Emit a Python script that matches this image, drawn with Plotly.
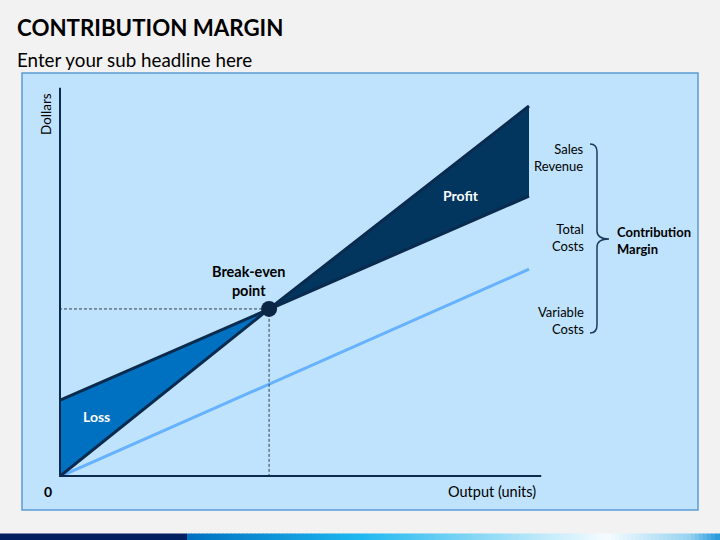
import plotly.graph_objects as go

# ---------------- data ----------------
output_units = [0, 100]
sales_revenue = [0, 100]
total_costs = [20.6, 75.7]
variable_costs = [0, 56]
break_even_output = 44.7
break_even_dollars = 45.3
x_axis_end = 102.6
y_axis_end = 104.9

title_text = "CONTRIBUTION MARGIN"
subtitle_text = "Enter your sub headline here"
right_labels = ["Sales<br>Revenue", "Total<br>Costs", "Variable<br>Costs"]
bracket_label = "Contribution<br>Margin"

# ---------------- helpers ----------------
W, H = 720, 540
FONT = "Lato"
NAVY = "#0A2B4E"


def px(x):
    return x / W


def py(y):
    return 1 - y / H


fig = go.Figure()

# Loss region
fig.add_trace(go.Scatter(
    x=[output_units[0], output_units[0], break_even_output, output_units[0]],
    y=[sales_revenue[0], total_costs[0], break_even_dollars, sales_revenue[0]],
    fill="toself", fillcolor="#0070C0", mode="lines",
    line=dict(width=0), hoverinfo="skip", showlegend=False))
# Profit region
fig.add_trace(go.Scatter(
    x=[break_even_output, output_units[1], output_units[1], break_even_output],
    y=[break_even_dollars, sales_revenue[1], total_costs[1], break_even_dollars],
    fill="toself", fillcolor="#02365F", mode="lines",
    line=dict(width=0), hoverinfo="skip", showlegend=False))
# Variable costs
fig.add_trace(go.Scatter(x=output_units, y=variable_costs, mode="lines",
                         line=dict(color="#66B2FF", width=3), showlegend=False))
# Sales revenue
fig.add_trace(go.Scatter(x=[output_units[0], break_even_output, output_units[1]],
                         y=[sales_revenue[0], break_even_dollars, sales_revenue[1]],
                         mode="lines", line=dict(color=NAVY, width=3), showlegend=False))
# Total costs
fig.add_trace(go.Scatter(x=[output_units[0], break_even_output, output_units[1]],
                         y=[total_costs[0], break_even_dollars, total_costs[1]],
                         mode="lines", line=dict(color=NAVY, width=3), showlegend=False))
# Break-even guides
fig.add_trace(go.Scatter(x=[0, break_even_output, break_even_output],
                         y=[break_even_dollars, break_even_dollars, 0],
                         mode="lines", line=dict(color="#333F4F", width=1, dash="3px,2px"),
                         showlegend=False))
# Break-even point
fig.add_trace(go.Scatter(x=[break_even_output], y=[break_even_dollars], mode="markers",
                         marker=dict(size=16, color="#0B2545"), showlegend=False))

shapes = []
# panel
shapes.append(dict(type="rect", xref="paper", yref="paper", x0=px(22), x1=px(698),
                   y0=py(510), y1=py(73), fillcolor="#BFE3FC",
                   line=dict(color="#5B9BD5", width=1.5), layer="below"))
# axes
shapes.append(dict(type="line", xref="x", yref="y", x0=0, y0=0, x1=x_axis_end, y1=0,
                   line=dict(color=NAVY, width=4), layer="above"))
shapes.append(dict(type="line", xref="x", yref="y", x0=0, y0=0, x1=0, y1=y_axis_end,
                   line=dict(color=NAVY, width=4), layer="above"))
# brace
pts = "M {a},{b} Q {c},{b} {c},{d} L {c},{e} Q {c},{f} {g},{f} Q {c},{f} {c},{h} L {c},{i} Q {c},{j} {a},{j}".format(
    a=px(590), b=py(144), c=px(597), d=py(152), e=py(231), f=py(239), g=px(609),
    h=py(247), i=py(325), j=py(333))
shapes.append(dict(type="path", xref="paper", yref="paper", path=pts,
                   line=dict(color="#1F3A5F", width=1.5)))

# bottom bar
shapes.append(dict(type="rect", xref="paper", yref="paper", x0=0, x1=px(187),
                   y0=0, y1=py(533.5), fillcolor="#002060", line=dict(width=0)))
stops = [(187, (0, 112, 192)), (360, (29, 184, 240)), (480, (138, 216, 245)),
         (607, (245, 252, 255)), (690, (150, 210, 240)), (720, (30, 150, 218))]
step = 4
x = 187
while x < 720:
    xm = x + step / 2
    for k in range(len(stops) - 1):
        if stops[k][0] <= xm <= stops[k + 1][0]:
            t = (xm - stops[k][0]) / (stops[k + 1][0] - stops[k][0])
            c = tuple(int(round(stops[k][1][i] + t * (stops[k + 1][1][i] - stops[k][1][i]))) for i in range(3))
            break
    shapes.append(dict(type="rect", xref="paper", yref="paper", x0=px(x), x1=px(min(x + step + 0.5, 720)),
                       y0=0, y1=py(533.5), fillcolor="rgb(%d,%d,%d)" % c, line=dict(width=0)))
    x += step

ann = []


def text(x, y, s, size, bold=False, color="#000000", xanchor="center", align="center", angle=0):
    ann.append(dict(xref="paper", yref="paper", x=px(x), y=py(y), text=("<b>%s</b>" % s) if bold else s,
                    showarrow=False, xanchor=xanchor, yanchor="middle", align=align, textangle=angle,
                    font=dict(family=FONT, size=size, color=color)))


text(15, 28, title_text, 22.3, bold=True, xanchor="left", align="left")
text(15, 59, subtitle_text, 18.8, xanchor="left", align="left")
text(46, 114, "Dollars", 13.5, angle=-90)
text(48, 491, "0", 14, bold=True)
text(538, 491, "Output (units)", 14.5, xanchor="right", align="right")
text(96, 416, "Loss", 14, bold=True, color="#FFFFFF")
text(461, 196, "Profit", 14, bold=True, color="#FFFFFF")
text(249, 281, "Break-even<br>point", 14.5, bold=True)
for lbl, yc in zip(right_labels, [158, 237, 320]):
    text(586, yc, lbl, 13, xanchor="right", align="right")
text(615, 240, bracket_label, 13, bold=True, xanchor="left", align="left")

x_per_px = 100 / (529 - 59)
y_per_px = 100 / (477 - 106)
fig.update_layout(
    width=W, height=H, margin=dict(l=0, r=0, t=0, b=0),
    paper_bgcolor="#F2F2F2", plot_bgcolor="rgba(0,0,0,0)",
    xaxis=dict(domain=[px(59), px(545)], range=[0, (545 - 59) * x_per_px], visible=False, fixedrange=True),
    yaxis=dict(domain=[py(477), py(80)], range=[0, (477 - 80) * y_per_px], visible=False, fixedrange=True),
    shapes=shapes, annotations=ann, showlegend=False,
    font=dict(family=FONT),
)
fig.write_html("out.html", config={"displayModeBar": False},
               post_script="document.body.style.margin='0';document.body.style.overflow='hidden';")
